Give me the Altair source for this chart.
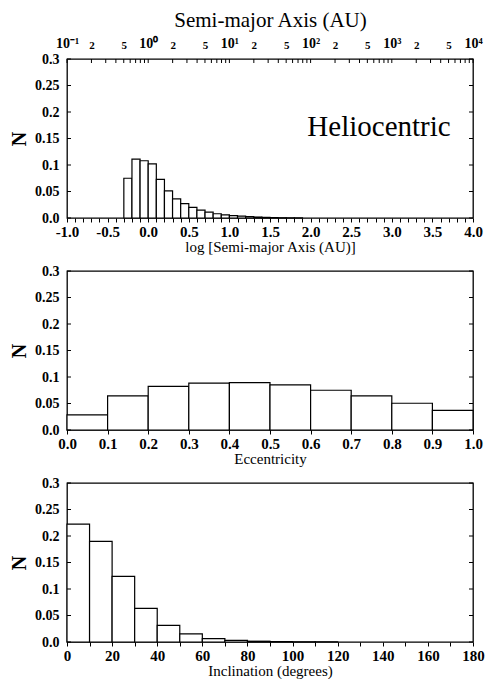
import altair as alt
import pandas as pd
import math

FONT = "Liberation Serif"

# ---------------- data ----------------
# Panel 1: log10 semi-major axis (bin left edges, bin width 0.1)
loga_left = [-0.3, -0.2, -0.1, 0.0, 0.1, 0.2, 0.3, 0.4, 0.5, 0.6, 0.7, 0.8, 0.9,
             1.0, 1.1, 1.2, 1.3, 1.4, 1.5, 1.6, 1.7, 1.8]
loga_N = [0.075, 0.111, 0.108, 0.102, 0.073, 0.051, 0.036, 0.027, 0.020, 0.015,
          0.011, 0.008, 0.006, 0.0045, 0.0035, 0.0025, 0.0018, 0.0012, 0.0008,
          0.0005, 0.0003, 0.0002]
loga_width = 0.1

# Panel 2: eccentricity
ecc_left = [0.0, 0.1, 0.2, 0.3, 0.4, 0.5, 0.6, 0.7, 0.8, 0.9]
ecc_N = [0.0285, 0.0645, 0.0825, 0.0885, 0.0895, 0.085, 0.075, 0.0645, 0.0505, 0.037]
ecc_width = 0.1

# Panel 3: inclination (degrees)
inc_left = [0, 10, 20, 30, 40, 50, 60, 70, 80, 90, 100, 110]
inc_N = [0.2225, 0.19, 0.124, 0.0635, 0.0315, 0.0155, 0.0065, 0.003, 0.0015,
         0.0008, 0.0004, 0.0002]
inc_width = 10

# Axis tick values / labels
y_ticks = [0.0, 0.05, 0.1, 0.15, 0.2, 0.25, 0.3]
loga_ticks = [round(-1.0 + 0.1 * i, 1) for i in range(51)]
ecc_ticks = [round(0.1 * i, 1) for i in range(11)]
inc_ticks = list(range(0, 181, 10))

top_major_au = [0.1, 0.2, 0.5, 1, 2, 5, 10, 20, 50, 100, 200, 500, 1000, 2000, 5000, 10000]
top_major_labels = ["10⁻¹", "2", "5", "10⁰", "2", "5", "10¹", "2", "5",
                    "10²", "2", "5", "10³", "2", "5", "10⁴"]
top_minor_mult = [3, 4, 6, 7, 8, 9]
top_decades = [0.1, 1, 10, 100, 1000]

title_top = "Semi-major Axis (AU)"
title_p1 = "log [Semi-major Axis (AU)]"
title_p2 = "Eccentricity"
title_p3 = "Inclination (degrees)"
annotation = "Heliocentric"

# ---------------- layout ----------------
W = 406
H = 159
yscale = alt.Scale(domain=[0, 0.3], nice=False, zero=False)

top_pos = [math.log10(v) for v in top_major_au]
top_all = top_pos + [math.log10(d * m) for d in top_decades for m in top_minor_mult]

top_expr = ""
for p, lab in zip(top_pos, top_major_labels):
    top_expr += f"abs(datum.value - ({p:.5f})) < 0.001 ? '{lab}' : "
top_expr += "''"

yaxis = alt.Axis(values=y_ticks, labelExpr="datum.value == 0 ? '0.0' : format(datum.value, '~g')",
                 ticks=False, tickSize=0, domain=False, grid=False, labelPadding=8,
                 labelFlush=False,
                 labelFontSize=14, labelFontWeight="bold", title="N", titleFontSize=20,
                 titleFontWeight="bold", titlePadding=5, titleAngle=-90)


def ytick_layers():
    d = pd.DataFrame({"v": y_ticks})
    left = alt.Chart(d).mark_rule(color="black", strokeWidth=1).encode(
        y=alt.Y("v:Q", scale=yscale, axis=None), x=alt.value(0), x2=alt.value(4))
    right = alt.Chart(d).mark_rule(color="black", strokeWidth=1).encode(
        y=alt.Y("v:Q", scale=yscale, axis=None), x=alt.value(W - 4), x2=alt.value(W))
    return [left, right]


def bars(left, N, width, xscale, xaxis):
    df = pd.DataFrame({"left": left, "N": N})
    df["right"] = df["left"] + width
    return alt.Chart(df).mark_rect(fill="white", stroke="black", strokeWidth=1.2).encode(
        x=alt.X("left:Q", scale=xscale, axis=xaxis),
        x2="right:Q",
        y=alt.Y("N:Q", scale=yscale, axis=yaxis),
        y2=alt.datum(0),
    )


def xaxis(values, expr, title):
    return alt.Axis(values=values, labelExpr=expr, labelOverlap=False, labelFlush=False,
                    tickSize=4, tickColor="black", domain=False, grid=False, labelPadding=2,
                    labelFontSize=15, labelFontWeight="bold", title=title,
                    titleFontSize=15, titleFontWeight="normal", titlePadding=0)


# Panel 1
xs1 = alt.Scale(domain=[-1, 4], nice=False, zero=False)
p1_bars = bars(loga_left, loga_N, loga_width, xs1,
               xaxis(loga_ticks,
                     "abs(datum.value*2 - round(datum.value*2)) < 0.001 ? "
                     "replace(format(datum.value, '.1f'), '\u2212', '-') : ''",
                     title_p1))
p1_top = alt.Chart(pd.DataFrame({"pos": top_all})).mark_rule(color="black", strokeWidth=1).encode(
    x=alt.X("pos:Q", scale=xs1,
            axis=alt.Axis(orient="top", values=top_pos, labelExpr=top_expr, ticks=False,
                          tickSize=0, domain=False, grid=False, labelOverlap=False,
                          labelFlush=False, labelPadding=9,
                          labelFontSize={"condition": {"test": "abs(datum.value - round(datum.value)) < 0.001",
                                                       "value": 14}, "value": 11},
                          labelFontWeight="bold", title=title_top, titleFontSize=21,
                          titleFontWeight="normal", titlePadding=6)),
    y=alt.value(0), y2=alt.value(4))
p1_text = alt.Chart(pd.DataFrame({"t": [annotation]})).mark_text(
    font=FONT, fontSize=29, align="center", baseline="alphabetic", color="black").encode(
    text="t:N", x=alt.value(312), y=alt.value(77))
p1 = alt.layer(p1_bars, p1_top, p1_text, *ytick_layers()).resolve_axis(
    x="independent", y="independent").properties(width=W, height=H)

# Panel 2
xs2 = alt.Scale(domain=[0, 1], nice=False, zero=False)
p2 = alt.layer(bars(ecc_left, ecc_N, ecc_width, xs2,
                    xaxis(ecc_ticks, "format(datum.value, '.1f')", title_p2)),
               *ytick_layers()).resolve_axis(x="independent", y="independent").properties(width=W, height=H)

# Panel 3
xs3 = alt.Scale(domain=[0, 180], nice=False, zero=False)
p3 = alt.layer(bars(inc_left, inc_N, inc_width, xs3,
                    xaxis(inc_ticks, "datum.value % 20 == 0 ? format(datum.value, 'd') : ''", title_p3)),
               *ytick_layers()).resolve_axis(x="independent", y="independent").properties(width=W, height=H)

chart = alt.vconcat(p1, p2, p3, spacing=53, bounds="flush").properties(padding=0).configure(
    font=FONT, background="white").configure_view(stroke="black", strokeWidth=1.3).configure_axis(
    labelColor="black", titleColor="black", labelFont=FONT, titleFont=FONT)

chart.save("out.html", embed_options={"renderer": "svg", "actions": False})
